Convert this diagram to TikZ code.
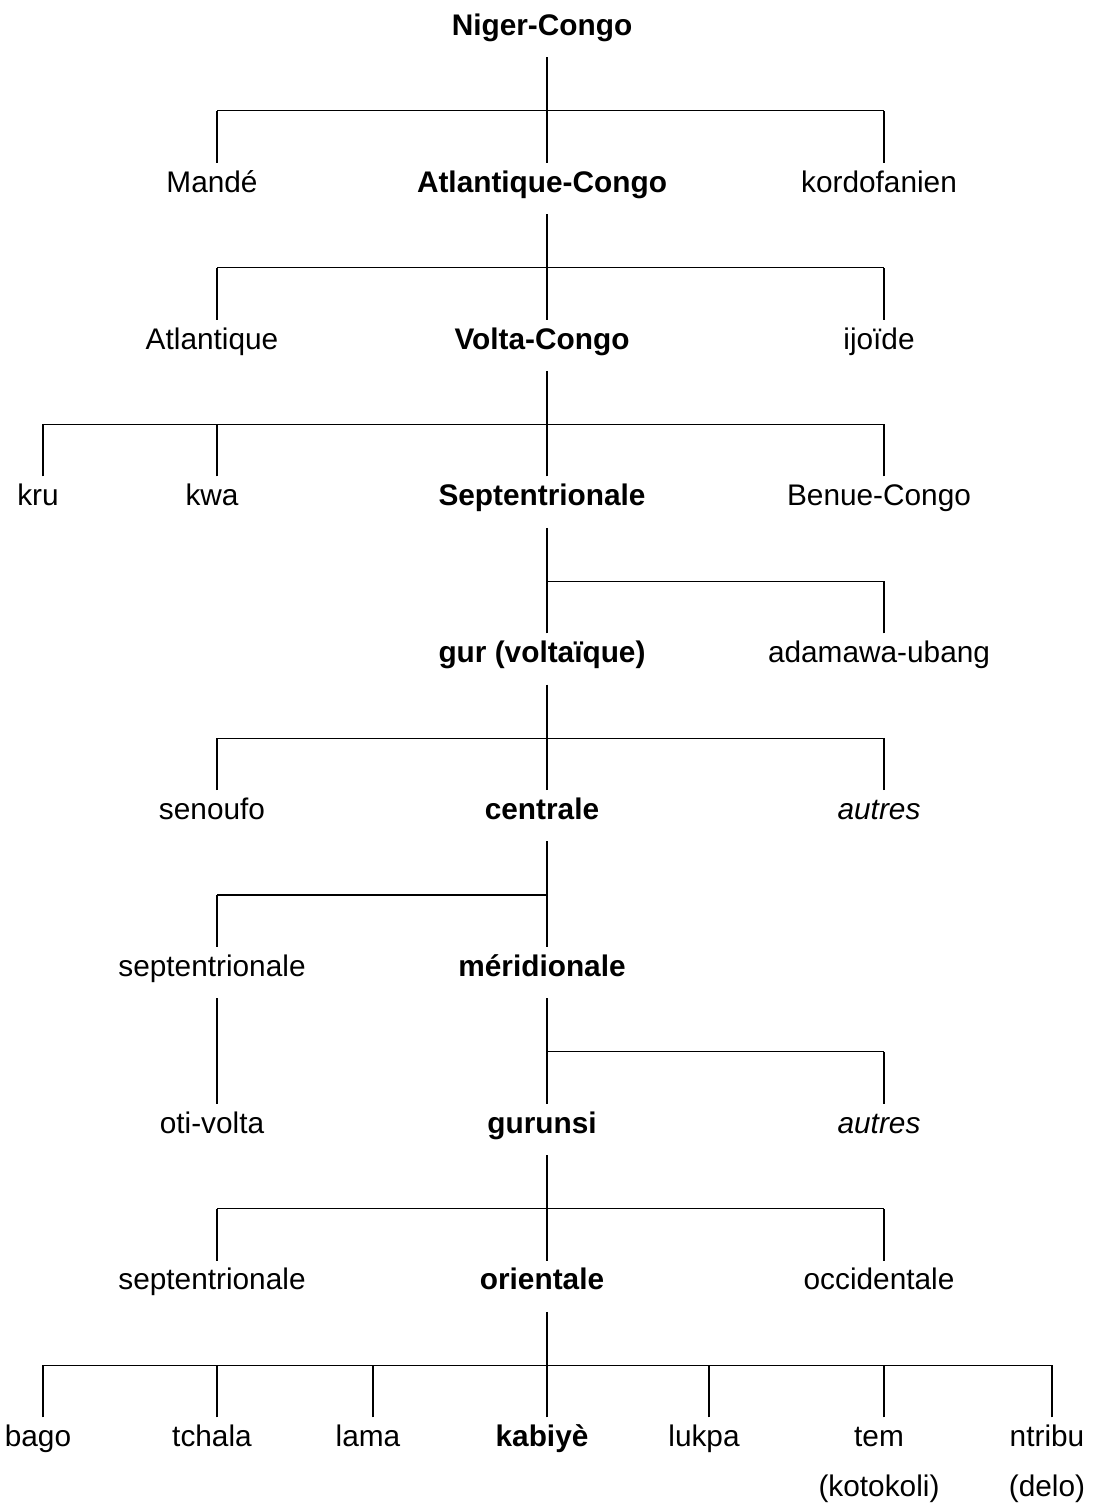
\documentclass[tikz,border=0pt]{standalone}
\usepackage{fontspec}
\setmainfont{Liberation Sans}
\usetikzlibrary{positioning}

\tikzset{
    lang/.style={font=\fontsize{14.9}{17.8}\selectfont, anchor=base, inner xsep=0pt, inner ysep=0pt, text height=14.5pt, text depth=10.75pt, execute at end node={\kern5pt}},
    main/.style={lang, font=\fontsize{14.9}{17.8}\selectfont\bfseries},
    other/.style={lang, font=\fontsize{14.9}{17.8}\selectfont\itshape},
    tree/.style={line width=0.6pt}
}

\begin{document}
\begin{tikzpicture}[x=0.5pt, y=-0.5pt]
            \useasboundingbox (0,0) rectangle (1096,1507);

            % les noeuds, ligne par ligne
            \node[main] (ng) at (547,35.5) {Niger-Congo};

            \node[lang] (mande) at (217,192.3) {Mandé};
            \node[main] (atlc) at (547,192.3) {Atlantique-Congo};
            \node[lang] (kordo) at (884,192.3) {kordofanien};

            \node[lang] (atl) at (217,349.1) {Atlantique};
            \node[main] (vc) at (547,349.1) {Volta-Congo};
            \node[lang] (ijo) at (884,349.1) {ijoïde};

            \node[lang] (kru) at (43,505.9) {kru};
            \node[lang] (kwa) at (217,505.9) {kwa};
            \node[main] (sept) at (547,505.9) {Septentrionale};
            \node[lang] (benue) at (884,505.9) {Benue-Congo};

            \node[main] (gur) at (547,662.7) {gur (voltaïque)};
            \node[lang] (adam) at (884,662.7) {adamawa-ubang};

            \node[lang] (senoufo) at (217,819.5) {senoufo};
            \node[main] (centr) at (547,819.5) {centrale};
            \node[other] (autresA) at (884,819.5) {autres};

            \node[lang] (septA) at (217,976.3) {septentrionale};
            \node[main] (merid) at (547,976.3) {méridionale};

            \node[lang] (oti) at (217,1133.1) {oti-volta};
            \node[main] (gurunsi) at (547,1133.1) {gurunsi};
            \node[other] (autresB) at (884,1133.1) {autres};

            \node[lang] (septB) at (217,1289.9) {septentrionale};
            \node[main] (orient) at (547,1289.9) {orientale};
            \node[lang] (occid) at (884,1289.9) {occidentale};

            \node[lang] (bago) at (43,1446.7) {bago};
            \node[lang] (tchala) at (217,1446.7) {tchala};
            \node[lang] (lama) at (373,1446.7) {lama};
            \node[main] (kabiye) at (547,1446.7) {kabiyè};
            \node[lang] (lukpa) at (709,1446.7) {lukpa};
            \node[lang] (tem) at (884,1446.7) {tem};
            \node[lang] (ntribu) at (1052,1446.7) {ntribu};
            \node[lang] (koto) at ([yshift=-25pt]tem.base) {(kotokoli)};
            \node[lang] (delo) at ([yshift=-25pt]ntribu.base) {(delo)};

            % les branches
            \draw[tree] (ng.south) -- ++(0,53.5) coordinate (j0);
            \draw[tree] (j0 -| mande) -- (j0 -| kordo);
            \foreach \c in {mande,atlc,kordo} \draw[tree] (\c.north) -- (\c.north |- j0);

            \draw[tree] (atlc.south) -- ++(0,53.5) coordinate (j1);
            \draw[tree] (j1 -| atl) -- (j1 -| ijo);
            \foreach \c in {atl,vc,ijo} \draw[tree] (\c.north) -- (\c.north |- j1);

            \draw[tree] (vc.south) -- ++(0,53.5) coordinate (j2);
            \draw[tree] (j2 -| kru) -- (j2 -| benue);
            \foreach \c in {kru,kwa,sept,benue} \draw[tree] (\c.north) -- (\c.north |- j2);

            \draw[tree] (sept.south) -- ++(0,53.5) coordinate (j3);
            \draw[tree] (j3) -- (j3 -| adam);
            \foreach \c in {gur,adam} \draw[tree] (\c.north) -- (\c.north |- j3);

            \draw[tree] (gur.south) -- ++(0,53.5) coordinate (j4);
            \draw[tree] (j4 -| senoufo) -- (j4 -| autresA);
            \foreach \c in {senoufo,centr,autresA} \draw[tree] (\c.north) -- (\c.north |- j4);

            \draw[tree] (centr.south) -- ++(0,53.5) coordinate (j5);
            \draw[tree] (j5 -| septA) -- (j5);
            \foreach \c in {septA,merid} \draw[tree] (\c.north) -- (\c.north |- j5);

            \draw[tree] (septA.south) -- (oti.north);

            \draw[tree] (merid.south) -- ++(0,53.5) coordinate (j6);
            \draw[tree] (j6) -- (j6 -| autresB);
            \foreach \c in {gurunsi,autresB} \draw[tree] (\c.north) -- (\c.north |- j6);

            \draw[tree] (gurunsi.south) -- ++(0,53.5) coordinate (j7);
            \draw[tree] (j7 -| septB) -- (j7 -| occid);
            \foreach \c in {septB,orient,occid} \draw[tree] (\c.north) -- (\c.north |- j7);

            \draw[tree] (orient.south) -- ++(0,53.5) coordinate (j8);
            \draw[tree] (j8 -| bago) -- (j8 -| ntribu);
            \foreach \c in {bago,tchala,lama,kabiye,lukpa,tem,ntribu} \draw[tree] (\c.north) -- (\c.north |- j8);
        \end{tikzpicture}
\end{document}
